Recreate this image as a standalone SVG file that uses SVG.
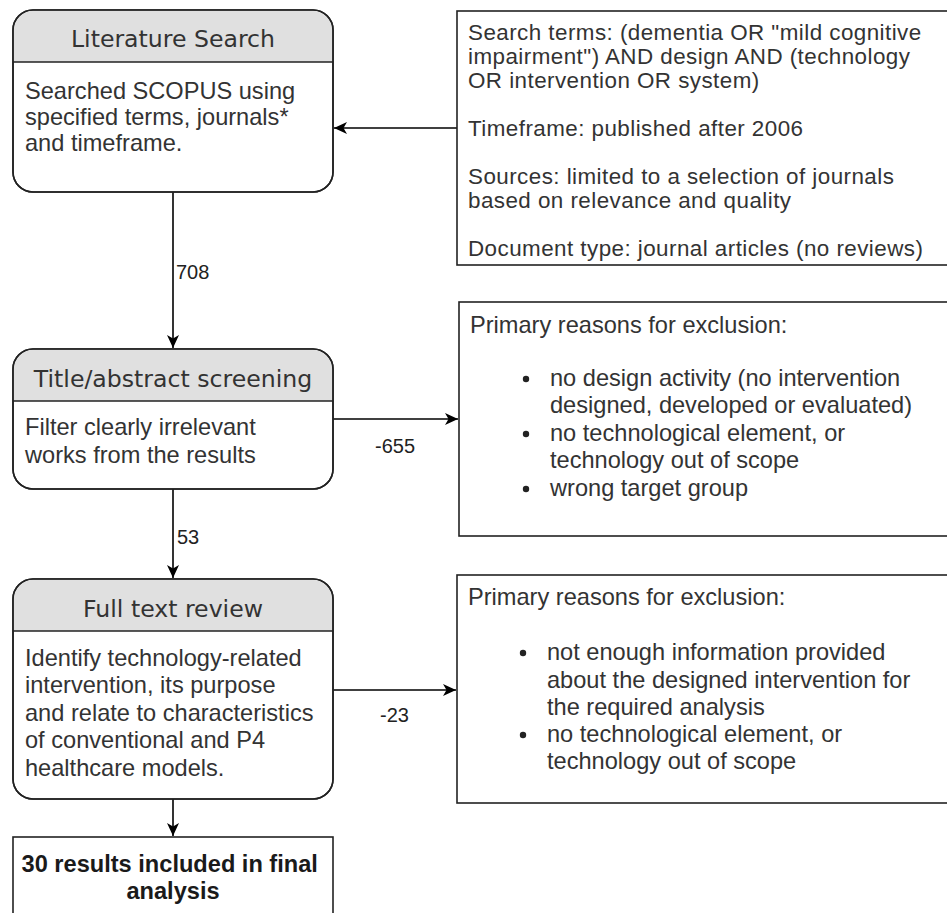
<svg xmlns="http://www.w3.org/2000/svg" width="947" height="913" viewBox="0 0 947 913">
  <defs>
    <marker id="arrow" markerUnits="userSpaceOnUse" markerWidth="14" markerHeight="12" refX="13" refY="6" orient="auto">
      <path d="M0,0 L13,6 L0,12 L3.5,6 Z" fill="#000"/>
    </marker>
    <style>
      .frame { fill: none; stroke: #222; stroke-width: 1.6; }
      .box { fill: #fff; stroke: #222; stroke-width: 1.6; }
      .head { fill: #e0e0e0; stroke: none; }
      .sep { stroke: #222; stroke-width: 1.6; }
      .title { font-family: "DejaVu Sans", Verdana, sans-serif; font-size: 23.6px; fill: #333; text-anchor: middle; }
      .body { font-family: "Liberation Sans", Arial, sans-serif; font-size: 23.6px; fill: #333; }
      .tight { font-family: "Liberation Sans", Arial, sans-serif; font-size: 22.4px; letter-spacing: 0.45px; fill: #333; }
      .bold { font-family: "Liberation Sans", Arial, sans-serif; font-size: 23.6px; font-weight: bold; fill: #1a1a1a; text-anchor: middle; }
      .lbl { font-family: "Liberation Sans", Arial, sans-serif; font-size: 20px; fill: #222; }
      .edge { fill: none; stroke: #000; stroke-width: 1.6; }
      .dot { fill: #222; }
    </style>
  </defs>
  <rect width="947" height="913" fill="#fff"/>

  <!-- Connectors -->
  <g id="connectors">
    <path class="edge" d="M173,192 V348" marker-end="url(#arrow)"/>
    <path class="edge" d="M173,489 V578" marker-end="url(#arrow)"/>
    <path class="edge" d="M173,799 V836" marker-end="url(#arrow)"/>
    <path class="edge" d="M457,128 H334" marker-end="url(#arrow)"/>
    <path class="edge" d="M333,419 H458" marker-end="url(#arrow)"/>
    <path class="edge" d="M333,690 H456" marker-end="url(#arrow)"/>
    <text class="lbl" x="176" y="279">708</text>
    <text class="lbl" x="177" y="544">53</text>
    <text class="lbl" x="375" y="453">-655</text>
    <text class="lbl" x="380" y="722">-23</text>
  </g>

  <!-- Literature Search -->
  <g id="literature-search">
    <rect class="box" x="13" y="10" width="320" height="182" rx="20" ry="20"/>
    <path class="head" d="M13.8,62 V30 A19.2,19.2 0 0 1 33,10.8 H313 A19.2,19.2 0 0 1 332.2,30 V62 Z"/>
    <rect class="frame" x="13" y="10" width="320" height="182" rx="20" ry="20"/>
    <line class="sep" x1="13" y1="62" x2="333" y2="62"/>
    <text class="title" x="173" y="47">Literature Search</text>
    <text class="body">
      <tspan x="25" y="99">Searched SCOPUS using</tspan>
      <tspan x="25" y="125">specified terms, journals*</tspan>
      <tspan x="25" y="151">and timeframe.</tspan>
    </text>
  </g>

  <!-- Search criteria -->
  <g id="search-criteria">
    <rect class="frame" x="457" y="11" width="500" height="254"/>
    <text class="tight">
      <tspan x="468" y="40">Search terms: (dementia OR "mild cognitive</tspan>
      <tspan x="468" y="64">impairment") AND design AND (technology</tspan>
      <tspan x="468" y="88">OR intervention OR system)</tspan>
      <tspan x="468" y="136">Timeframe: published after 2006</tspan>
      <tspan x="468" y="184">Sources: limited to a selection of journals</tspan>
      <tspan x="468" y="208">based on relevance and quality</tspan>
      <tspan x="468" y="256">Document type: journal articles (no reviews)</tspan>
    </text>
  </g>

  <!-- Title/abstract screening -->
  <g id="title-abstract-screening">
    <rect class="box" x="13" y="349" width="320" height="140" rx="20" ry="20"/>
    <path class="head" d="M13.8,401 V369 A19.2,19.2 0 0 1 33,349.8 H313 A19.2,19.2 0 0 1 332.2,369 V401 Z"/>
    <rect class="frame" x="13" y="349" width="320" height="140" rx="20" ry="20"/>
    <line class="sep" x1="13" y1="401" x2="333" y2="401"/>
    <text class="title" x="173" y="387">Title/abstract screening</text>
    <text class="body">
      <tspan x="25" y="435">Filter clearly irrelevant</tspan>
      <tspan x="25" y="463">works from the results</tspan>
    </text>
  </g>

  <!-- Exclusion reasons after screening -->
  <g id="screening-exclusions">
    <rect class="frame" x="459" y="302" width="500" height="234"/>
    <text class="body">
      <tspan x="470" y="333">Primary reasons for exclusion:</tspan>
      <tspan x="550" y="386">no design activity (no intervention</tspan>
      <tspan x="550" y="413">designed, developed or evaluated)</tspan>
      <tspan x="550" y="441">no technological element, or</tspan>
      <tspan x="550" y="468">technology out of scope</tspan>
      <tspan x="550" y="496">wrong target group</tspan>
    </text>
    <circle class="dot" cx="526" cy="379" r="3.2"/>
    <circle class="dot" cx="526" cy="434" r="3.2"/>
    <circle class="dot" cx="526" cy="489" r="3.2"/>
  </g>

  <!-- Full text review -->
  <g id="full-text-review">
    <rect class="box" x="13" y="579" width="320" height="220" rx="20" ry="20"/>
    <path class="head" d="M13.8,631 V599 A19.2,19.2 0 0 1 33,579.8 H313 A19.2,19.2 0 0 1 332.2,599 V631 Z"/>
    <rect class="frame" x="13" y="579" width="320" height="220" rx="20" ry="20"/>
    <line class="sep" x1="13" y1="631" x2="333" y2="631"/>
    <text class="title" x="173" y="617">Full text review</text>
    <text class="body">
      <tspan x="25" y="666">Identify technology-related</tspan>
      <tspan x="25" y="693">intervention, its purpose</tspan>
      <tspan x="25" y="721">and relate to characteristics</tspan>
      <tspan x="25" y="748">of conventional and P4</tspan>
      <tspan x="25" y="776">healthcare models.</tspan>
    </text>
  </g>

  <!-- Exclusion reasons after full text review -->
  <g id="review-exclusions">
    <rect class="frame" x="457" y="575" width="500" height="228"/>
    <text class="body">
      <tspan x="468" y="605">Primary reasons for exclusion:</tspan>
      <tspan x="547" y="660">not enough information provided</tspan>
      <tspan x="547" y="688">about the designed intervention for</tspan>
      <tspan x="547" y="715">the required analysis</tspan>
      <tspan x="547" y="742">no technological element, or</tspan>
      <tspan x="547" y="769">technology out of scope</tspan>
    </text>
    <circle class="dot" cx="523" cy="653" r="3.2"/>
    <circle class="dot" cx="523" cy="735" r="3.2"/>
  </g>

  <!-- Final result -->
  <g id="final-results">
    <rect class="box" x="13" y="837" width="320" height="100"/>
    <text class="bold">
      <tspan x="173" y="872">30 results included in final</tspan>
      <tspan x="173" y="899">analysis</tspan>
    </text>
  </g>
</svg>
